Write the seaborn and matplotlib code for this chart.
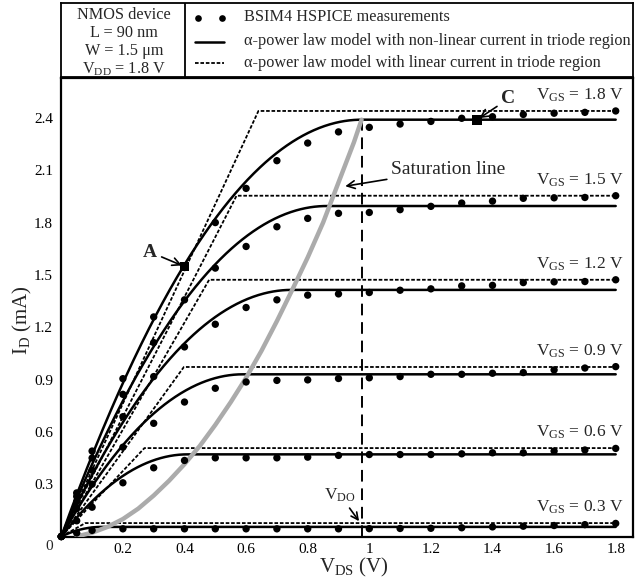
import numpy as np
import pandas as pd
import matplotlib
matplotlib.use('Agg')
import matplotlib.pyplot as plt
import seaborn as sns

# ---------------- data ----------------
vgs_values = ['1.8', '1.5', '1.2', '0.9', '0.6', '0.3']
vds_meas = [0, 0.05, 0.1, 0.2, 0.3, 0.4, 0.5, 0.6, 0.7, 0.8, 0.9,
            1.0, 1.1, 1.2, 1.3, 1.4, 1.5, 1.6, 1.7, 1.8]
id_meas_18 = [0, 0.25, 0.49, 0.905, 1.259, 1.548, 1.80, 1.996, 2.155, 2.256, 2.32,
              2.346, 2.365, 2.38, 2.398, 2.407, 2.42, 2.427, 2.432, 2.44]
id_meas_15 = [0, 0.23, 0.45, 0.815, 1.112, 1.357, 1.539, 1.663, 1.776, 1.824, 1.853,
              1.858, 1.874, 1.893, 1.912, 1.923, 1.939, 1.942, 1.944, 1.954]
id_meas_12 = [0, 0.20, 0.38, 0.687, 0.917, 1.087, 1.217, 1.313, 1.357, 1.384, 1.391,
              1.399, 1.412, 1.42, 1.437, 1.44, 1.456, 1.46, 1.462, 1.472]
id_meas_09 = [0, 0.16, 0.30, 0.512, 0.649, 0.771, 0.85, 0.886, 0.895, 0.898, 0.906,
              0.91, 0.917, 0.93, 0.93, 0.936, 0.94, 0.955, 0.966, 0.974]
id_meas_06 = [0, 0.09, 0.168, 0.308, 0.394, 0.436, 0.451, 0.451, 0.451, 0.455, 0.465,
              0.47, 0.47, 0.47, 0.474, 0.48, 0.48, 0.49, 0.496, 0.505]
id_meas_03 = [0, 0.02, 0.035, 0.044, 0.044, 0.044, 0.044, 0.044, 0.044, 0.044, 0.044,
              0.045, 0.046, 0.047, 0.05, 0.055, 0.059, 0.063, 0.068, 0.075]

# alpha-power model (non-linear triode): saturation current and saturation voltage
sat_current = [2.39, 1.895, 1.414, 0.93, 0.471, 0.055]
sat_voltage = [0.975, 0.862, 0.748, 0.59, 0.41, 0.13]
# alpha-power model (linear triode): saturation current and knee voltage
lin_current = [2.44, 1.954, 1.472, 0.972, 0.507, 0.077]
lin_knee = [0.64, 0.569, 0.48, 0.398, 0.27, 0.078]

# saturation line (grey)
satline_vds = [0.05, 0.1, 0.15, 0.2, 0.25, 0.3, 0.35, 0.4, 0.45, 0.5,
               0.55, 0.6, 0.65, 0.7, 0.75, 0.8, 0.85, 0.9, 0.95, 0.975]
satline_id = [0.0, 0.022, 0.055, 0.10, 0.16, 0.235, 0.32, 0.415, 0.52, 0.64,
              0.77, 0.91, 1.065, 1.235, 1.415, 1.60, 1.80, 2.03, 2.26, 2.39]

vdo = 0.975
vdo_top = 2.39
point_A = (0.4, 1.548)
point_C = (1.35, 2.39)

xticks = [0.2, 0.4, 0.6, 0.8, 1.0, 1.2, 1.4, 1.6, 1.8]
xticklabels = ['0.2', '0.4', '0.6', '0.8', '1', '1.2', '1.4', '1.6', '1.8']
yticks = [0.3, 0.6, 0.9, 1.2, 1.5, 1.8, 2.1, 2.4]
yticklabels = ['0.3', '0.6', '0.9', '1.2', '1.5', '1.8', '2.1', '2.4']

# ---------------- style ----------------
sns.set_style('white')
plt.rcParams['font.family'] = ['Liberation Serif', 'DejaVu Serif']
plt.rcParams['mathtext.fontset'] = 'custom'
plt.rcParams['mathtext.rm'] = 'Liberation Serif'
plt.rcParams['mathtext.it'] = 'Liberation Serif:italic'
plt.rcParams['mathtext.bf'] = 'Liberation Serif:bold'

W, H = 644, 585
fig = plt.figure(figsize=(W / 100, H / 100), dpi=100)
fig.patch.set_facecolor('white')

L, R, B, T = 61.3, 633, 536.5, 78
ax = fig.add_axes([L / W, 1 - B / H, (R - L) / W, (B - T) / H])
ax.set_xlim(0, (R - L) / 308.0)
ax.set_ylim(0, (B - T) / 174.4)

# model lines
xgrid = np.linspace(0, 1.8, 721)
for i in range(len(vgs_values)):
    u = np.minimum(xgrid / sat_voltage[i], 1.0)
    cur = sat_current[i] * (2 - u) * u
    sns.lineplot(x=xgrid, y=cur, ax=ax, color='black', lw=1.8, estimator=None,
                 sort=False, zorder=3)
    sns.lineplot(x=[0, lin_knee[i], 1.8], y=[0, lin_current[i], lin_current[i]],
                 ax=ax, color='black', lw=1.3, linestyle=(0, (2.0, 1.0)),
                 estimator=None, sort=False, zorder=3)

# saturation line
sns.lineplot(x=satline_vds, y=satline_id, ax=ax, color='#ababab', lw=3.2,
             estimator=None, sort=False, zorder=4, solid_capstyle='round',
             solid_joinstyle='round')

# VDO dashed line
sns.lineplot(x=[vdo, vdo], y=[0, vdo_top], ax=ax, color='black', lw=1.4,
             linestyle=(0, (6, 3.5)), estimator=None, sort=False, zorder=3)

# measurements
meas = pd.DataFrame({
    'vds': vds_meas * 6,
    'id': id_meas_18 + id_meas_15 + id_meas_12 + id_meas_09 + id_meas_06 + id_meas_03,
})
sns.scatterplot(data=meas, x='vds', y='id', ax=ax, color='black', s=28,
                edgecolor='none', zorder=5, clip_on=False, legend=False)
sns.scatterplot(x=[point_A[0], point_C[0]], y=[point_A[1], point_C[1]], ax=ax,
                marker='s', color='black', s=50, edgecolor='none', zorder=6,
                legend=False)

# V_GS labels
for i, v in enumerate(vgs_values):
    ax.text(1.824, lin_current[i] + 0.088, r'V$_\mathregular{GS}$ = ' + v + ' V',
            ha='right', va='center', fontsize=12.5)

# annotations
arw = dict(arrowstyle='->', lw=1.2, color='black', shrinkA=1, shrinkB=2)
ax.annotate('A', xy=point_A, xytext=(0.288, 1.631), ha='center', va='center',
            fontsize=14, fontweight='bold', arrowprops=arw)
ax.annotate('C', xy=point_C, xytext=(1.452, 2.51), ha='center', va='center',
            fontsize=14, fontweight='bold', arrowprops=arw)
ax.annotate('Saturation line', xy=(0.913, 2.006), xytext=(1.072, 2.106),
            ha='left', va='center', fontsize=14, arrowprops=arw)
ax.annotate(r'V$_\mathregular{DO}$', xy=(0.972, 0.075), xytext=(0.905, 0.238),
            ha='center', va='center', fontsize=12.5, arrowprops=arw)

# axes styling
ax.set_xticks(xticks)
ax.set_xticklabels(xticklabels)
ax.set_yticks(yticks)
ax.set_yticklabels(yticklabels)
ax.tick_params(axis='both', direction='in', length=4, width=1, labelsize=11,
               colors='black')
ax.tick_params(axis='y', pad=6)
ax.tick_params(axis='x', pad=5)
for sp in ax.spines.values():
    sp.set_visible(True)
    sp.set_linewidth(1.6)
    sp.set_color('black')
ax.set_xlabel(r'V$_\mathregular{DS}$ (V)', fontsize=15)
ax.set_ylabel(r'I$_\mathregular{D}$ (mA)', fontsize=15)
ax.xaxis.set_label_coords((354 - L) / (R - L), -(556 - B) / (B - T))
ax.yaxis.set_label_coords(-(L - 34) / (R - L), (B - 320) / (B - T))
fig.text(49 / W, 1 - 546 / H, '0', ha='center', va='center', fontsize=11)

# ---------------- legend box ----------------
lax = fig.add_axes([L / W, 1 - 77 / H, (R - L) / W, (77 - 3) / H])
lax.set_xlim(L, R)
lax.set_ylim(77, 3)
lax.set_xticks([])
lax.set_yticks([])
for sp in lax.spines.values():
    sp.set_visible(True)
    sp.set_linewidth(1.3)
    sp.set_color('black')
lax.plot([185, 185], [3, 77], color='black', lw=1.3)
cx = 124
fs_leg = 11.7
lax.text(cx, 15, 'NMOS device', ha='center', va='center', fontsize=fs_leg)
lax.text(cx, 33, 'L = 90 nm', ha='center', va='center', fontsize=fs_leg)
lax.text(cx, 51, 'W = 1.5 μm', ha='center', va='center', fontsize=fs_leg)
lax.text(cx, 69, r'V$_\mathregular{DD}$ = 1.8 V', ha='center', va='center', fontsize=fs_leg)

lax.plot([198.3, 221.7], [18, 18], 'o', color='black', ms=4.8, mec='none')
lax.plot([195, 224], [42, 42], color='black', lw=1.8)
lax.plot([195, 224], [63, 63], color='black', lw=1.3, linestyle=(0, (2.0, 1.0)))
tx = 244
lax.text(tx, 17, 'BSIM4 HSPICE measurements', ha='left', va='center', fontsize=fs_leg)
lax.text(tx, 41, 'α-power law model with non-linear current in triode region',
         ha='left', va='center', fontsize=fs_leg)
lax.text(tx, 63, 'α-power law model with linear current in triode region',
         ha='left', va='center', fontsize=fs_leg)

fig.savefig('out.png', dpi=100, facecolor='white')
